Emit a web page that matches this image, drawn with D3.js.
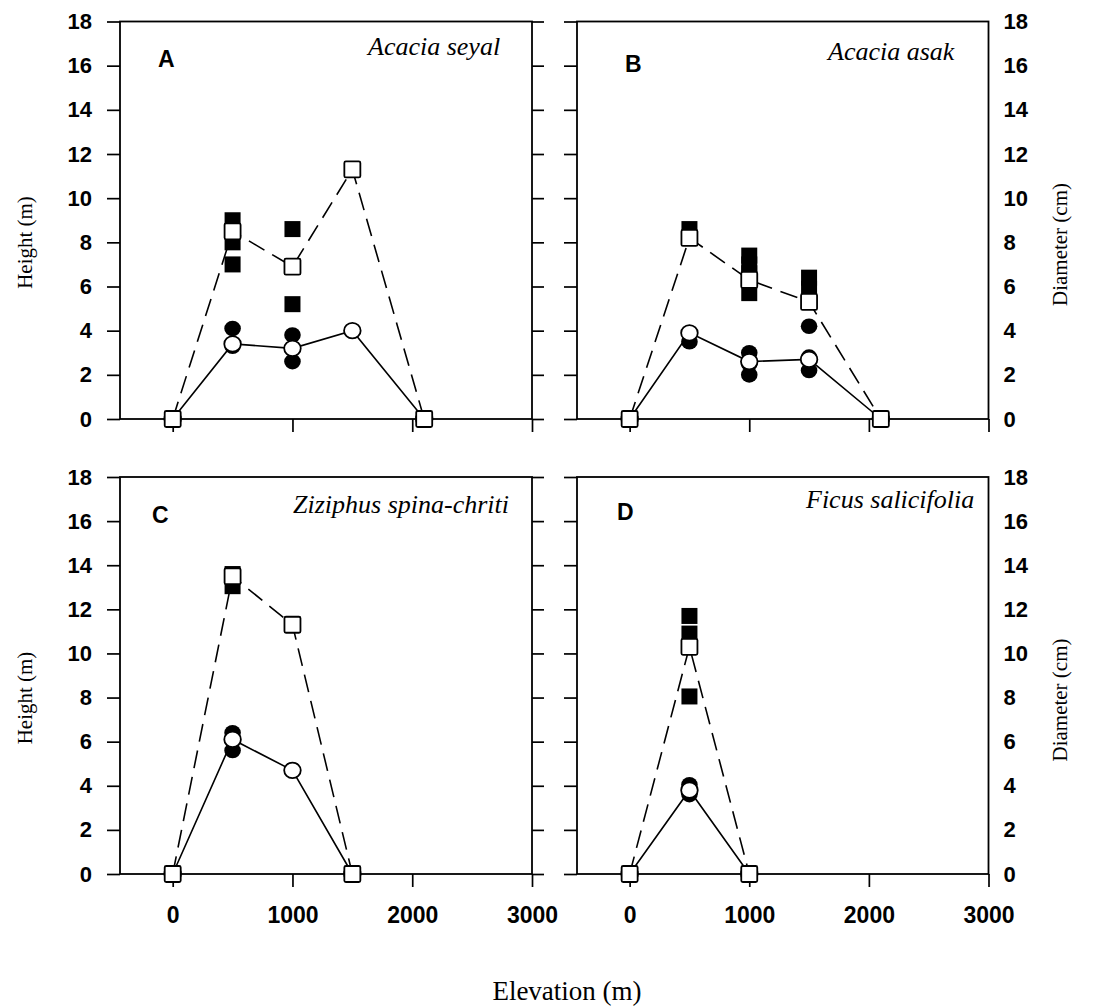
<!DOCTYPE html>
<html>
<head>
<meta charset="utf-8">
<script src="https://cdn.jsdelivr.net/npm/d3@7"></script>
<style>
  html, body { margin: 0; padding: 0; background: #fff; }
  svg { display: block; }
  .tick text { font-family: "Liberation Sans", Arial, sans-serif; font-weight: bold; fill: #000; }
  .tick line { stroke: #000; stroke-width: 1.7; }
</style>
</head>
<body>
<svg id="chart" width="1098" height="1006"></svg>
<script>
// ---- axis ticks ----
const elevationTicks = [0, 1000, 2000, 3000];
const sizeTicks = [0, 2, 4, 6, 8, 10, 12, 14, 16, 18];

// ---- panel text ----
const panelLetters = ["A", "B", "C", "D"];
const speciesNames = ["Acacia seyal", "Acacia asak", "Ziziphus spina-chriti", "Ficus salicifolia"];

// ---- data: [elevation (m), value] ----
// Acacia seyal
const seyalHeightMean = [[0, 0], [500, 8.5], [1000, 6.9], [1500, 11.3], [2100, 0]];
const seyalHeightSites = [[500, 9.0], [500, 8.0], [500, 7.0], [1000, 8.6], [1000, 5.2]];
const seyalDiamMean = [[0, 0], [500, 3.4], [1000, 3.2], [1500, 4.0], [2100, 0]];
const seyalDiamSites = [[500, 4.1], [500, 3.3], [1000, 3.8], [1000, 2.6]];

// Acacia asak
const asakHeightMean = [[0, 0], [500, 8.2], [1000, 6.3], [1500, 5.3], [2100, 0]];
const asakHeightSites = [[500, 8.6], [500, 8.2], [1000, 7.4], [1000, 7.0], [1000, 6.6], [1000, 5.7],
                         [1500, 6.4], [1500, 5.9]];
const asakDiamMean = [[0, 0], [500, 3.9], [1000, 2.6], [1500, 2.7], [2100, 0]];
const asakDiamSites = [[500, 3.5], [1000, 3.0], [1000, 2.5], [1000, 2.0], [1500, 4.2], [1500, 2.8], [1500, 2.2]];

// Ziziphus spina-chriti
const ziziphusHeightMean = [[0, 0], [500, 13.5], [1000, 11.3], [1500, 0]];
const ziziphusHeightSites = [[500, 13.6], [500, 13.05]];
const ziziphusDiamMean = [[0, 0], [500, 6.1], [1000, 4.7], [1500, 0]];
const ziziphusDiamSites = [[500, 6.4], [500, 5.6]];

// Ficus salicifolia
const ficusHeightMean = [[0, 0], [500, 10.3], [1000, 0]];
const ficusHeightSites = [[500, 11.7], [500, 10.9], [500, 8.05]];
const ficusDiamMean = [[0, 0], [500, 3.8], [1000, 0]];
const ficusDiamSites = [[500, 4.05], [500, 3.6]];

const seriesByPanel = [
  { hMean: seyalHeightMean, hSites: seyalHeightSites, dMean: seyalDiamMean, dSites: seyalDiamSites },
  { hMean: asakHeightMean, hSites: asakHeightSites, dMean: asakDiamMean, dSites: asakDiamSites },
  { hMean: ziziphusHeightMean, hSites: ziziphusHeightSites, dMean: ziziphusDiamMean, dSites: ziziphusDiamSites },
  { hMean: ficusHeightMean, hSites: ficusHeightSites, dMean: ficusDiamMean, dSites: ficusDiamSites }
];

// ---- layout ----
const cols = [[120, 532], [577, 988.5]];
const rows = [[21.5, 419], [477, 874]];
const panelLayout = [
  { col: 0, row: 0, letter: [38, 45.5], species: [248, 33.5] },
  { col: 1, row: 0, letter: [48, 50.5], species: [251, 38.5] },
  { col: 0, row: 1, letter: [32, 46], species: [173, 36] },
  { col: 1, row: 1, letter: [40, 43], species: [229, 31] }
];

const svg = d3.select("#chart");
const SQ = 16;   // square marker side
const CR = 8.3;  // circle marker radius

panelLayout.forEach((p, i) => {
  const [x0, x1] = cols[p.col];
  const [yTop, yBot] = rows[p.row];
  const x = d3.scaleLinear().domain([-440, 3000]).range([x0, x1]);
  const y = d3.scaleLinear().domain([0, 18]).range([yBot, yTop]);
  const g = svg.append("g");
  const isLeft = p.col === 0;
  const isBottom = p.row === 1;

  // x axis ticks (labels on bottom row only)
  const xa = g.append("g").attr("transform", `translate(0,${yBot})`)
    .call(d3.axisBottom(x).tickValues(elevationTicks).tickSize(13).tickPadding(20)
      .tickFormat(isBottom ? d3.format("d") : () => ""));
  xa.select(".domain").remove();
  xa.selectAll("text").style("font-size", "23px");

  // y axis on the left edge
  const yl = g.append("g").attr("transform", `translate(${x0},0)`)
    .call(d3.axisLeft(y).tickValues(sizeTicks).tickSize(13).tickPadding(15)
      .tickFormat(isLeft ? d3.format("d") : () => ""));
  yl.select(".domain").remove();
  yl.selectAll("text").style("font-size", "22px");

  // y axis on the right edge
  const yr = g.append("g").attr("transform", `translate(${x1},0)`)
    .call(d3.axisRight(y).tickValues(sizeTicks).tickSize(isLeft ? 12 : 0).tickPadding(15)
      .tickFormat(isLeft ? () => "" : d3.format("d")));
  yr.select(".domain").remove();
  yr.selectAll("text").style("font-size", "22px");

  // frame
  g.append("rect")
    .attr("x", x0).attr("y", yTop).attr("width", x1 - x0).attr("height", yBot - yTop)
    .attr("fill", "none").attr("stroke", "#000").attr("stroke-width", 1.8);

  const s = seriesByPanel[i];
  const line = d3.line().x(d => x(d[0])).y(d => y(d[1]));

  g.append("path").datum(s.hMean).attr("d", line)
    .attr("fill", "none").attr("stroke", "#000").attr("stroke-width", 1.6)
    .attr("stroke-dasharray", "18,9");
  g.append("path").datum(s.dMean).attr("d", line)
    .attr("fill", "none").attr("stroke", "#000").attr("stroke-width", 1.6);

  // individual sites (filled)
  g.selectAll(".hs").data(s.hSites).join("rect")
    .attr("x", d => x(d[0]) - SQ / 2).attr("y", d => y(d[1]) - SQ / 2)
    .attr("width", SQ).attr("height", SQ).attr("fill", "#000");
  g.selectAll(".ds").data(s.dSites).join("ellipse")
    .attr("cx", d => x(d[0])).attr("cy", d => y(d[1]))
    .attr("rx", CR).attr("ry", CR - 0.5).attr("fill", "#000");

  // means (open)
  g.selectAll(".dm").data(s.dMean).join("ellipse")
    .attr("cx", d => x(d[0])).attr("cy", d => y(d[1]))
    .attr("rx", CR).attr("ry", CR - 0.5)
    .attr("fill", "#fff").attr("stroke", "#000").attr("stroke-width", 1.8);
  g.selectAll(".hm").data(s.hMean).join("rect")
    .attr("x", d => x(d[0]) - SQ / 2).attr("y", d => y(d[1]) - SQ / 2)
    .attr("width", SQ).attr("height", SQ).attr("rx", 1.5)
    .attr("fill", "#fff").attr("stroke", "#000").attr("stroke-width", 1.8);

  // panel letter and species name
  g.append("text").attr("x", x0 + p.letter[0]).attr("y", yTop + p.letter[1])
    .attr("font-family", "'Liberation Sans', Arial, sans-serif").attr("font-weight", "bold")
    .attr("font-size", 23).text(panelLetters[i]);
  g.append("text").attr("x", x0 + p.species[0]).attr("y", yTop + p.species[1])
    .attr("font-family", "'Liberation Serif', 'Times New Roman', serif").attr("font-style", "italic")
    .attr("font-size", 26).text(speciesNames[i]);

  // axis titles
  const titleFont = "'Liberation Serif', 'Times New Roman', serif";
  const midY = yTop + 221;
  if (isLeft) {
    svg.append("text").attr("transform", `translate(32,${midY}) rotate(-90)`)
      .attr("text-anchor", "middle").attr("font-family", titleFont).attr("font-size", 21)
      .text("Height (m)");
  } else {
    svg.append("text").attr("transform", `translate(1067,${midY + 2}) rotate(-90)`)
      .attr("text-anchor", "middle").attr("font-family", titleFont).attr("font-size", 21)
      .text("Diameter (cm)");
  }
});

svg.append("text").attr("x", 567).attr("y", 1000).attr("text-anchor", "middle")
  .attr("font-family", "'Liberation Serif', 'Times New Roman', serif").attr("font-size", 27)
  .text("Elevation (m)");
</script>
</body>
</html>
